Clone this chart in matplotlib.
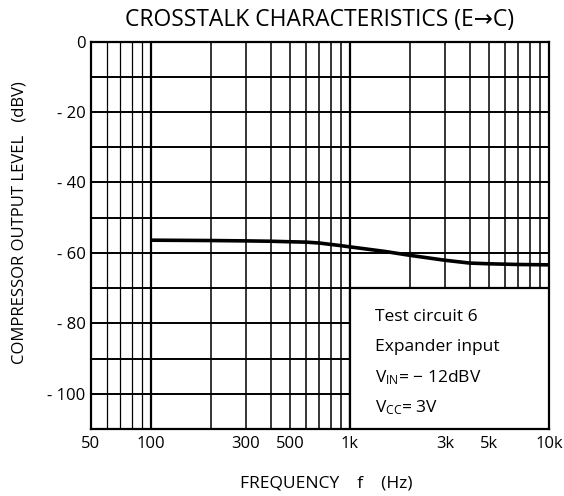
import matplotlib
matplotlib.use("Agg")
import matplotlib.pyplot as plt
from matplotlib.patches import Rectangle

plt.rcParams["font.family"] = ["Open Sans", "DejaVu Sans"]
plt.rcParams["mathtext.fontset"] = "custom"
plt.rcParams["mathtext.rm"] = "Open Sans"
plt.rcParams["mathtext.it"] = "Open Sans"

# crosstalk curve
freq = [100, 200, 300, 400, 500, 600, 700, 800, 900, 1000,
        1500, 2000, 3000, 4000, 5000, 7000, 10000]
level = [-56.4, -56.5, -56.6, -56.7, -56.85, -56.95, -57.2, -57.6, -57.95, -58.3,
         -59.6, -60.7, -62.1, -62.9, -63.1, -63.3, -63.4]

xticks = [50, 100, 300, 500, 1000, 3000, 5000, 10000]
xlabels = ["50", "100", "300", "500", "1k", "3k", "5k", "10k"]
yticks = [0, -20, -40, -60, -80, -100]
ylabels = ["0", "- 20", "- 40", "- 60", "- 80", "- 100"]

vgrid = [60, 70, 80, 90, 100, 200, 300, 400, 500, 600, 700, 800, 900,
         1000, 2000, 3000, 4000, 5000, 6000, 7000, 8000, 9000]
hgrid = [-10, -20, -30, -40, -50, -60, -70, -80, -90, -100]

notes = ["Test circuit 6", "Expander input",
         r"V$_{\mathrm{IN}}$= − 12dBV", r"V$_{\mathrm{CC}}$= 3V"]

fig = plt.figure(figsize=(5.64, 4.96), dpi=100)
ax = fig.add_axes([91 / 564, 1 - 429 / 496, 458 / 564, 387.5 / 496])
ax.set_xscale("log")
ax.set_xlim(50, 10000)
ax.set_ylim(-110, 0)

for f in vgrid:
    lw = 1.6 if f in (100, 1000) else (0.9 if f < 100 else 1.1)
    ax.axvline(f, color="black", lw=lw, zorder=1)
for y in hgrid:
    ax.axhline(y, color="black", lw=1.4, zorder=1)

# condition box covers the grid in the lower right
ax.add_patch(Rectangle((1000, -110), 9000, 40, facecolor="white",
                       edgecolor="black", lw=1.6, zorder=3))

ax.plot(freq, level, color="black", lw=2.6, zorder=4, solid_capstyle="butt")

for i, s in enumerate(notes):
    ax.text(1340, -78.2 - 8.6 * i, s, fontsize=12.5, va="center", ha="left", zorder=5)

ax.set_xticks(xticks)
ax.set_xticklabels(xlabels)
ax.xaxis.set_minor_locator(matplotlib.ticker.NullLocator())
ax.set_yticks(yticks)
ax.set_yticklabels(ylabels)
ax.tick_params(length=0, labelsize=12)
ax.tick_params(axis="x", pad=5)
ax.tick_params(axis="y", pad=4)
for sp in ax.spines.values():
    sp.set_linewidth(1.6)

fig.text(320 / 564, 1 - 20.5 / 496, "CROSSTALK CHARACTERISTICS (E→C)",
         fontsize=16.5, ha="center", va="center")
fig.text(0.578, 1 - 483 / 496, "FREQUENCY    f    (Hz)",
         fontsize=12.5, ha="center", va="center")
fig.text(20 / 564, 1 - 223 / 496, "COMPRESSOR OUTPUT LEVEL   (dBV)",
         fontsize=12, ha="center", va="center", rotation=90)

fig.savefig("out.png", dpi=100)
